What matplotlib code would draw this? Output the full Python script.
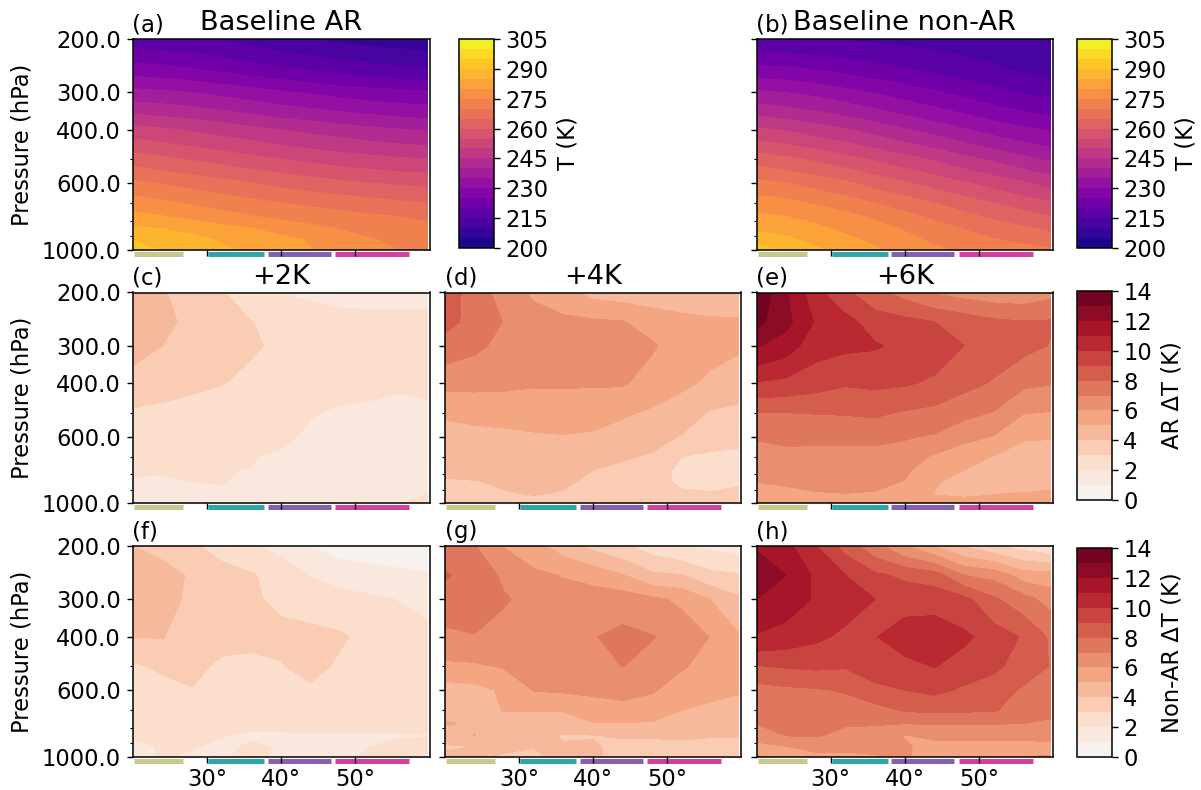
"""Temperature cross sections for AR and non-AR conditions, baseline and warming runs."""
import numpy as np
import matplotlib
matplotlib.use("Agg")  # headless
import matplotlib.pyplot as plt
from matplotlib.ticker import FixedLocator, FixedFormatter, NullFormatter

lats = [20, 24, 28, 32, 36, 40, 44, 48, 52, 56, 59.7]
plevs = [200, 250, 300, 400, 500, 600, 700, 775, 850, 925, 1000]

# rows are pressure levels
base_ar = [
    [217, 216.5, 215.8, 214.5, 213, 211.5, 210, 209, 208, 207.5, 207],
    [227, 226.2, 225, 223.5, 222, 220.5, 219, 218, 216.5, 215.5, 214.5],
    [236.5, 235.8, 234.8, 233.5, 232, 230.5, 229.3, 228, 227, 226.2, 225.7],
    [252, 250.8, 249.5, 248, 246.5, 245, 243.7, 242.5, 241.3, 240.3, 239.5],
    [262.5, 261, 259.5, 258, 256.5, 255, 253.7, 252.5, 251.5, 250.7, 250],
    [271, 269.5, 268, 266.5, 265, 263.5, 262.2, 261, 260, 259.2, 258.7],
    [277.5, 276, 274.5, 273, 271.5, 270.2, 269, 268, 267, 265.8, 265],
    [281.7, 280.3, 278.5, 276.8, 275.2, 274, 272.8, 271.8, 270.8, 270, 269],
    [285.8, 285, 283.5, 281.8, 280.2, 278, 276.3, 274.8, 273.3, 272.2, 271.3],
    [289.9, 288, 286.3, 284.6, 283, 281.5, 279.5, 277.5, 275.3, 274, 273.2],
    [292, 289.6, 287.5, 285.6, 284.3, 282.5, 280.2, 278.5, 276.5, 274.8, 274.5],
]
base_nonar = [
    [215.5, 215.2, 214.8, 214.5, 214, 213.5, 213, 212.5, 212, 211, 209.5],
    [226.2, 225.5, 224.5, 223, 221.5, 220, 218.5, 217, 215.5, 214, 212.8],
    [235.8, 234.8, 233.5, 231.5, 229.5, 227.5, 225.5, 223.5, 221.5, 219.5, 218],
    [251, 249.5, 247.5, 245.5, 243, 240.5, 238, 235.5, 233, 231, 229.5],
    [262.7, 261, 259, 256.8, 254.3, 251.8, 249.3, 246.5, 244, 241.3, 239],
    [271.5, 270, 268, 265.7, 263, 260.5, 258, 255.5, 253, 250.5, 248],
    [277.5, 276.5, 274.5, 272.5, 270, 267.5, 265, 262.5, 260, 257.5, 255.5],
    [281, 280, 278.5, 276.5, 274, 271.5, 269, 266.5, 264, 262, 260],
    [284.3, 282.8, 281, 279, 277, 274.5, 272, 269.8, 267.8, 265.8, 264],
    [288, 286, 283.5, 281, 279, 276.5, 274, 272, 270.3, 268.8, 267.7],
    [292, 289, 286, 283, 280.5, 278, 276, 274, 272.5, 271.5, 270.6],
]
ar_2k = [
    [4.4, 4.1, 3.5, 3.05, 2.5, 2.0, 1.85, 1.75, 1.75, 1.75, 1.75],
    [4.6, 4.3, 3.7, 3.3, 3.02, 2.7, 2.4, 2.25, 2.2, 2.2, 2.2],
    [4.3, 4.0, 3.6, 3.3, 3.1, 2.85, 2.6, 2.45, 2.4, 2.35, 2.3],
    [3.7, 3.5, 3.25, 3.03, 2.8, 2.6, 2.4, 2.25, 2.2, 2.15, 2.1],
    [2.85, 2.7, 2.55, 2.5, 2.4, 2.25, 2.05, 1.9, 1.85, 1.65, 1.9],
    [2.5, 2.45, 2.4, 2.35, 2.3, 2.2, 1.85, 1.7, 1.65, 1.55, 1.6],
    [2.3, 2.3, 2.25, 2.2, 2.05, 1.85, 1.7, 1.6, 1.5, 1.45, 1.5],
    [2.1, 2.08, 2.05, 2.03, 1.98, 1.7, 1.6, 1.5, 1.45, 1.45, 1.5],
    [1.9, 1.9, 2.0, 2.05, 1.75, 1.6, 1.55, 1.45, 1.4, 1.4, 1.45],
    [1.75, 1.7, 1.7, 1.8, 1.6, 1.55, 1.5, 1.45, 1.45, 1.7, 2.0],
    [1.6, 1.6, 1.6, 1.65, 1.6, 1.55, 1.5, 1.5, 1.5, 1.85, 2.3],
]

ar_4k = [
    [8.6, 8.3, 7.6, 6.3, 5.1, 4.75, 4.5, 4.2, 3.9, 3.7, 3.6],
    [7.5, 7.7, 7.2, 6.3, 5.2, 4.8, 4.5, 4.25, 3.95, 3.7, 3.6],
    [6.6, 6.95, 6.75, 6.25, 5.25, 4.85, 4.55, 4.3, 4.1, 3.95, 3.7],
    [5.8, 6.5, 6.5, 6.1, 5.4, 4.9, 4.6, 4.4, 4.2, 4.05, 3.8],
    [5.3, 6.25, 6.4, 6.1, 5.5, 4.95, 4.6, 4.3, 4.1, 3.95, 3.8],
    [4.7, 6.15, 6.3, 6.1, 5.3, 4.9, 4.45, 4.0, 3.85, 3.7, 3.6],
    [4.5, 6.05, 6.35, 6.1, 5.15, 4.55, 4.1, 3.8, 3.65, 3.55, 3.55],
    [4.4, 5.6, 6.1, 5.6, 4.85, 4.3, 3.9, 3.4, 3.3, 3.35, 3.4],
    [4.35, 5.3, 5.55, 5.2, 4.45, 3.95, 3.0, 2.8, 2.85, 3.1, 3.25],
    [4.35, 5.15, 5.3, 4.8, 3.9, 3.25, 2.9, 2.7, 2.75, 3.05, 3.25],
    [4.4, 5.1, 5.1, 4.6, 3.7, 3.2, 2.85, 2.7, 2.9, 3.15, 3.3],
]
ar_6k = [
    [13.9, 13.3, 12.1, 9.9, 8.0, 7.1, 6.6, 6.3, 6.0, 5.7, 5.6],
    [12.1, 12.3, 11.5, 9.7, 8.0, 7.25, 6.7, 6.4, 6.15, 5.75, 5.5],
    [10.3, 10.9, 10.4, 9.4, 8.05, 7.2, 6.75, 6.45, 6.25, 5.95, 5.6],
    [9.2, 10.35, 10.2, 9.1, 8.1, 7.15, 6.8, 6.5, 6.3, 6.0, 5.6],
    [8.3, 9.5, 10.1, 9.2, 8.2, 7.2, 6.75, 6.4, 6.2, 5.95, 5.65],
    [7.6, 9.3, 9.75, 9.1, 7.9, 7.1, 6.5, 6.2, 5.95, 5.7, 5.4],
    [6.9, 9.0, 9.45, 8.85, 7.7, 6.9, 5.85, 5.35, 5.1, 4.98, 5.1],
    [6.6, 8.6, 9.0, 8.3, 7.3, 6.3, 5.4, 5.0, 4.6, 4.97, 5.05],
    [6.4, 8.2, 8.5, 7.9, 6.95, 5.95, 4.95, 4.55, 4.35, 4.98, 5.1],
    [6.35, 8.05, 8.3, 7.2, 6.05, 5.1, 4.6, 4.35, 4.45, 5.03, 5.2],
    [6.7, 8.1, 7.95, 7.05, 5.95, 5.05, 4.7, 4.45, 4.75, 5.1, 5.4],
]
nonar_2k = [
    [4.0, 5.05, 4.7, 4.0, 2.85, 2.6, 2.4, 2.15, 2.05, 1.85, 1.8],
    [3.75, 4.3, 4.35, 4.05, 3.15, 2.7, 2.45, 2.25, 2.1, 2.05, 2.05],
    [3.1, 3.9, 3.8, 3.5, 3.3, 2.95, 2.6, 2.3, 2.15, 2.05, 1.9],
    [2.7, 3.3, 3.55, 3.35, 2.8, 2.6, 2.35, 2.2, 2.03, 1.85, 1.9],
    [2.1, 3.1, 3.1, 3.25, 2.75, 2.5, 2.3, 2.15, 1.9, 2.1, 2.2],
    [1.7, 2.55, 2.85, 3.2, 2.95, 2.6, 2.3, 2.1, 1.95, 1.95, 1.85],
    [0.95, 1.95, 2.6, 3.25, 3.3, 2.85, 2.35, 2.15, 1.95, 1.9, 1.85],
    [0.7, 1.4, 2.5, 3.1, 2.85, 2.5, 2.25, 2.1, 1.97, 1.9, 1.85],
    [0.65, 1.25, 2.2, 2.75, 2.65, 2.45, 2.25, 2.1, 1.97, 2.0, 2.1],
    [0.65, 1.12, 1.95, 2.45, 2.5, 2.4, 2.25, 2.1, 1.97, 2.1, 2.2],
    [0.65, 1.05, 1.7, 2.3, 2.45, 2.4, 2.25, 2.1, 1.98, 2.1, 2.2],
]
nonar_4k = [
    [7.5, 8.1, 7.6, 6.75, 5.8, 4.5, 4.6, 5.1, 4.6, 3.85, 4.2],
    [7.05, 7.65, 7.5, 6.95, 5.85, 4.7, 4.55, 4.85, 5.02, 4.0, 4.3],
    [5.95, 6.8, 7.1, 6.6, 6.1, 5.15, 5.05, 4.6, 4.55, 4.3, 3.8],
    [5.4, 6.2, 6.65, 6.5, 6.25, 6.05, 5.05, 4.6, 4.4, 4.05, 3.7],
    [4.5, 5.95, 6.35, 6.7, 6.4, 6.15, 5.05, 4.6, 3.9, 4.1, 4.4],
    [3.7, 5.7, 6.4, 6.95, 6.5, 6.2, 5.55, 4.95, 3.95, 4.1, 4.1],
    [3.2, 5.05, 6.55, 7.25, 7.02, 6.3, 5.7, 4.95, 4.1, 3.75, 3.8],
    [2.5, 4.2, 6.2, 7.05, 6.6, 6.1, 5.55, 4.9, 4.1, 3.7, 3.75],
    [2.0, 4.05, 5.8, 6.55, 6.1, 5.55, 5.0, 4.6, 4.15, 3.75, 3.75],
    [1.8, 3.25, 4.95, 5.95, 5.65, 5.25, 4.8, 4.4, 4.05, 3.75, 3.75],
    [1.6, 3.1, 4.15, 5.1, 5.3, 5.1, 4.6, 4.3, 4.03, 3.75, 3.8],
]
nonar_6k = [
    [11.9, 12.6, 12.0, 10.9, 8.95, 7.6, 7.25, 7.0, 6.4, 5.7, 6.05],
    [11.3, 12.0, 11.5, 10.6, 9.1, 7.8, 7.35, 7.1, 7.02, 5.95, 5.95],
    [10.05, 10.8, 10.9, 10.2, 9.2, 7.9, 7.4, 7.15, 7.05, 6.35, 5.7],
    [8.6, 10.0, 10.4, 9.8, 9.1, 8.1, 7.5, 7.05, 6.85, 6.3, 5.7],
    [7.3, 9.2, 10.0, 9.95, 9.5, 8.75, 7.6, 7.1, 6.5, 6.5, 5.85],
    [6.05, 8.8, 9.6, 10.5, 9.7, 9.0, 8.1, 7.0, 5.95, 6.1, 6.1],
    [5.0, 8.5, 9.6, 10.6, 10.05, 9.25, 8.2, 7.1, 6.2, 5.7, 5.6],
    [3.95, 7.0, 9.3, 10.2, 9.55, 8.85, 8.15, 7.05, 6.2, 5.7, 5.7],
    [3.2, 6.7, 8.15, 9.55, 9.2, 8.55, 8.1, 7.05, 6.2, 5.75, 5.7],
    [2.6, 5.5, 7.4, 8.9, 8.6, 7.85, 7.4, 7.0, 6.2, 5.75, 6.0],
    [2.2, 5.4, 6.6, 7.85, 7.95, 7.6, 7.25, 6.85, 6.2, 5.8, 6.05],
]

# latitude bands marked under each panel
band_edges = [(20.2, 26.8), (30.2, 37.7), (38.2, 46.7), (47.3, 57.3)]
band_colors = ["#c9c88c", "#2fa5a4", "#875fb0", "#d3409f"]

t_levels = np.arange(200, 306, 5)
t_ticks = [200, 215, 230, 245, 260, 275, 290, 305]
dt_levels = np.arange(0, 15, 1)
dt_ticks = [0, 2, 4, 6, 8, 10, 12, 14]
y_major = [200, 300, 400, 600, 1000]
y_minor = [500, 700, 800, 900]

W, H = 1201, 790
FS = 16.3
plt.rcParams["font.size"] = FS
plt.rcParams["axes.linewidth"] = 1.1


def px_axes(fig, x0, x1, y0, y1):
    # pixel box measured from the top left corner of the picture
    return fig.add_axes([x0 / W, 1 - y1 / H, (x1 - x0) / W, (y1 - y0) / H])


def panel(fig, box, data, cmap, levels, label, title=None, show_y=True, show_x=False, **kw):
    ax = px_axes(fig, *box)
    cs = ax.contourf(lats, plevs, data, levels=levels, cmap=cmap, **kw)
    ax.set_yscale("log")
    ax.set_ylim(1000, 200)
    ax.set_xlim(20, 60)
    ax.yaxis.set_major_locator(FixedLocator(y_major))
    ax.yaxis.set_minor_locator(FixedLocator(y_minor))
    ax.yaxis.set_minor_formatter(NullFormatter())
    if show_y:
        ax.yaxis.set_major_formatter(FixedFormatter([f"{p:.1f}" for p in y_major]))
        ax.set_ylabel("Pressure (hPa)", labelpad=6)
    else:
        ax.yaxis.set_major_formatter(NullFormatter())
    ax.set_xticks([30, 40, 50])
    ax.set_xticklabels(["30°", "40°", "50°"] if show_x else [])
    ax.tick_params(which="major", length=4.2, width=1.0, pad=4)
    ax.tick_params(which="minor", length=2.4, width=0.8)
    trans = ax.get_xaxis_transform()
    for (lo, hi), color in zip(band_edges, band_colors):
        ax.plot([lo, hi], [-0.0175, -0.0175], transform=trans, color=color, lw=3.6,
                solid_capstyle="butt", clip_on=False, zorder=1.5)
    ax.text(0, 1.012, label, transform=ax.transAxes, ha="left", va="bottom", fontsize=16.5)
    if title:
        ax.text(0.5, 1.012, title, transform=ax.transAxes, ha="center", va="bottom", fontsize=19.6)
    return cs


def add_cbar(fig, cs, box, ticks, label):
    cax = px_axes(fig, *box)
    cb = fig.colorbar(cs, cax=cax, ticks=ticks)
    cb.set_label(label, labelpad=6)
    cb.ax.tick_params(length=4.2, width=1.0, pad=4)
    cb.outline.set_linewidth(1.1)
    cb.ax.minorticks_off()


def main():
    fig = plt.figure(figsize=(W / 100, H / 100), dpi=100)
    col = [(132.5, 429.5), (445, 741), (756.5, 1053)]
    row = [(39, 250), (292.5, 503.5), (546, 757)]
    dt_kw = {"vmin": -14, "vmax": 14}

    cs = panel(fig, (*col[0], *row[0]), base_ar, "plasma", t_levels, "(a)", "Baseline AR")
    add_cbar(fig, cs, (459, 494, 39, 248), t_ticks, "T (K)")
    cs = panel(fig, (*col[2], *row[0]), base_nonar, "plasma", t_levels, "(b)", "Baseline non-AR", show_y=False)
    add_cbar(fig, cs, (1077, 1112, 39, 248), t_ticks, "T (K)")

    panel(fig, (*col[0], *row[1]), ar_2k, "RdBu_r", dt_levels, "(c)", "+2K", **dt_kw)
    panel(fig, (*col[1], *row[1]), np.array(ar_4k).T, "RdBu_r", dt_levels, "(d)", "+4K", show_y=False, **dt_kw)
    cs = panel(fig, (*col[2], *row[1]), np.array(ar_6k).T, "RdBu_r", dt_levels, "(e)", "+6K", show_y=False, **dt_kw)
    add_cbar(fig, cs, (1077, 1112, 291, 500), dt_ticks, "AR ΔT (K)")

    panel(fig, (*col[0], *row[2]), np.array(nonar_2k).T, "RdBu_r", dt_levels, "(f)", show_x=True, **dt_kw)
    panel(fig, (*col[1], *row[2]), np.array(nonar_4k).T, "RdBu_r", dt_levels, "(g)", show_y=False, show_x=True, **dt_kw)
    cs = panel(fig, (*col[2], *row[2]), np.array(nonar_6k).T, "RdBu_r", dt_levels, "(h)", show_y=False, show_x=True, **dt_kw)
    add_cbar(fig, cs, (1077, 1112, 548, 757), dt_ticks, "Non-AR ΔT (K)")

    fig.savefig("out.png", dpi=100)
    plt.close(fig)


if __name__ == "__main__":
    main()
